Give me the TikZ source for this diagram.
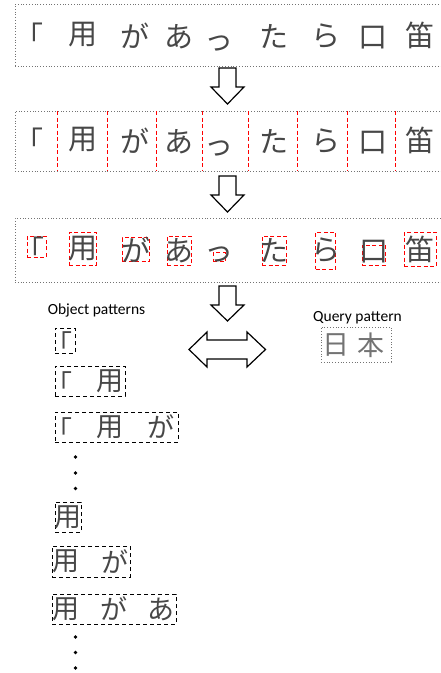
\documentclass[tikz,border=0pt]{standalone}
\usepackage{fontspec}
\setmainfont{Carlito}
\newfontfamily\cjk{Noto Sans CJK JP}
\newcommand\blockdn[4]{% x, top, head start, tip
  \draw[blockarrow] (#1-8.5,#2) -- (#1+8.5,#2) -- (#1+8.5,#3) -- (#1+16.5,#3) -- (#1,#4)
    -- (#1-16.5,#3) -- (#1-8.5,#3) -- cycle;}
\begin{document}
\begin{tikzpicture}[x=1pt,y=-1pt,
  hw/.style={font=\cjk\fontsize{29}{29}\selectfont, text=black!72, inner sep=0pt},
  hws/.style={font=\cjk\fontsize{27}{27}\selectfont, text=black!72, inner sep=0pt},
  strip/.style={draw=black!55, dotted, line width=0.8pt, inner sep=0pt, outer sep=0pt, anchor=north west},
  seg/.style={draw=red, dash pattern=on 4pt off 2.5pt, line width=1pt},
  rbox/.style={draw=red, dash pattern=on 4pt off 2.5pt, line width=1pt, inner sep=0pt, outer sep=0pt},
  pat/.style={draw=black, dash pattern=on 4pt off 3pt, line width=1pt, inner sep=0pt, outer sep=0pt, anchor=north west},
  blockarrow/.style={draw=black, line width=1.2pt, fill=white, line join=miter},
  lbl/.style={font=\fontsize{15.5}{15.5}\selectfont, inner sep=0pt},
  dot/.style={circle, fill=black, inner sep=0pt, minimum size=3.8pt}]
\useasboundingbox (0,0) rectangle (441,673);

% ---- row 1 ----
\node[strip, minimum width=430, minimum height=62] (r1) at (15,4) {};
\node[hw] (a1) at (29,35.5) {「};
\node[hw] (a2) at (83,34.5) {用};
\node[hw] (a3) at (135,35.5) {が};
\node[hw] (a4) at (179,36.5) {あ};
\node[hw] (a5) at (219,43) {っ};
\node[hw] (a6) at (274,36.5) {た};
\node[hw] (a7) at (326,36.5) {ら};
\node[hw] (a8) at (373,38) {口};
\node[hw] (a9) at (420,35) {笛};

\blockdn{227.5}{68}{87}{104}

% ---- row 2 ----
\node[strip, minimum width=430, minimum height=60] (r2) at (15,111) {};
\foreach \sx in {57.5,107,156,202,248,297.5,347.5,395.5}
  \draw[seg] (\sx,0 |- r2.north) -- (\sx,0 |- r2.south);
\node[hw] (c1) at (29,140.5) {「};
\node[hw] (c2) at (83,139.5) {用};
\node[hw] (c3) at (135,140.5) {が};
\node[hw] (c4) at (179,141.5) {あ};
\node[hw] (c5) at (219,148) {っ};
\node[hw] (c6) at (274,141.5) {た};
\node[hw] (c7) at (326,141.5) {ら};
\node[hw] (c8) at (373,143) {口};
\node[hw] (c9) at (420,140) {笛};

\blockdn{227.5}{176}{195}{212}

% ---- row 3 ----
\node[strip, minimum width=430, minimum height=64] (r3) at (15,218) {};
\node[rbox, minimum width=19, minimum height=21] (b1) at (36.5,246.5) {};
\node[rbox, minimum width=27, minimum height=33] (b2) at (82.5,248.5) {};
\node[rbox, minimum width=27, minimum height=24] (b3) at (135.5,249.5) {};
\node[rbox, minimum width=24, minimum height=29] (b4) at (179,250.5) {};
\node[rbox, minimum width=12, minimum height=9]  (b5) at (219,257) {};
\node[rbox, minimum width=24, minimum height=29] (b6) at (274,250.5) {};
\node[rbox, minimum width=20, minimum height=37] (b7) at (325.5,250.5) {};
\node[rbox, minimum width=23, minimum height=20] (b8) at (373.5,255) {};
\node[rbox, minimum width=32, minimum height=34] (b9) at (420,249) {};
\node[hw] (e1) at ([xshift=-6,yshift=-3]b1) {「};
\node[hw] (e2) at (b2) {用};
\node[hw] (e3) at (b3) {が};
\node[hw] (e4) at (b4) {あ};
\node[hw] (e5) at ([yshift=3]b5) {っ};
\node[hw] (e6) at (b6) {た};
\node[hw] (e7) at (b7) {ら};
\node[hw] (e8) at ([yshift=3]b8) {口};
\node[hw] (e9) at (b9) {笛};

\blockdn{227.5}{286}{305}{321}

% ---- labels ----
\node[lbl] (objlbl) at (96.5,310.5) {Object patterns};
\node[lbl] (qlbl) at (357.5,317.5) {Query pattern};

% double arrow
\draw[blockarrow] (189,349.5) -- (207,332) -- (207,340) -- (247,340) -- (247,332)
  -- (265.5,349.5) -- (247,367) -- (247,359) -- (207,359) -- (207,367) -- cycle;

% query pattern
\node[strip, minimum width=70, minimum height=35] (q) at (321,327) {};
\node[hws, text=black!55] (q1) at (336,345) {日};
\node[hws, text=black!55] (q2) at (371,345) {本};

% object patterns
\node[pat, minimum width=20, minimum height=25] (p1) at (55,328) {};
\node[hws] (p1a) at (59,343) {「};

\node[pat, minimum width=70, minimum height=30] (p2) at (55,366) {};
\node[hws] (p2a) at (59,383) {「};
\node[hws] (p2b) at (110,381) {用};

\node[pat, minimum width=123, minimum height=30] (p3) at (55,412) {};
\node[hws] (p3a) at (59,429) {「};
\node[hws] (p3b) at (110,427) {用};
\node[hws] (p3c) at (161,427) {が};

\node[dot] (d1) at (75.5,457) {};
\node[dot] (d2) at (75.5,473) {};
\node[dot] (d3) at (75.5,488.5) {};

\node[pat, minimum width=26, minimum height=30] (p4) at (55,502) {};
\node[hws] (p4a) at (68,517) {用};

\node[pat, minimum width=78, minimum height=31] (p5) at (52,546) {};
\node[hws] (p5a) at (66,561.5) {用};
\node[hws] (p5b) at (115,561.5) {が};

\node[pat, minimum width=124, minimum height=30] (p6) at (52,594) {};
\node[hws] (p6a) at (66,609) {用};
\node[hws] (p6b) at (114,609) {が};
\node[hws] (p6c) at (161,609) {あ};

\node[dot] (d4) at (75.5,637) {};
\node[dot] (d5) at (75.5,652.5) {};
\node[dot] (d6) at (75.5,668) {};
\end{tikzpicture}
\end{document}
